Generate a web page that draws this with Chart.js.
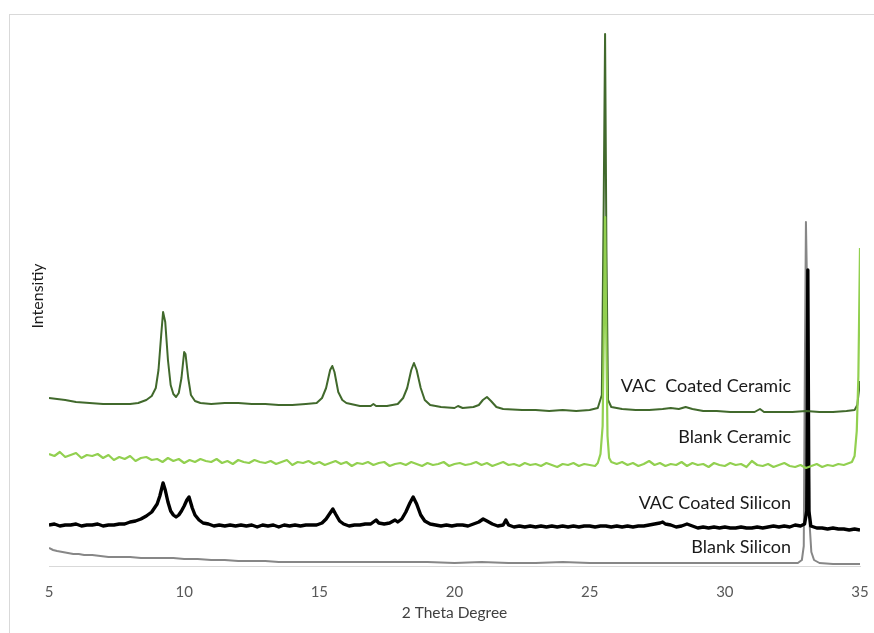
<!DOCTYPE html>
<html>
<head>
<meta charset="utf-8">
<script src="https://cdn.jsdelivr.net/npm/chart.js@4"></script>
<style>
  html, body { margin: 0; padding: 0; background: #fff; overflow: hidden; }
  #wrap { position: relative; width: 874px; height: 633px; }
  #frame { position: absolute; left: 9px; top: 14px; right: -2px; bottom: -2px;
           border: 1px solid #d9d9d9; }
  canvas { position: absolute; left: 0; top: 0; }
</style>
</head>
<body>
<div id="wrap">
  <div id="frame"></div>
  <canvas id="xrdChart" width="874" height="633"></canvas>
</div>
<script>
// Series: [2 theta, intensity (arbitrary, offset)]
const vacCeramic = [
  [5.0,168],[5.3,167],[5.6,166],[6.0,164],[6.5,163],[7.0,162],[7.5,162],[8.0,162],[8.3,163],
  [8.6,166],[8.8,170],[8.95,178],[9.05,196],[9.15,231],[9.22,254],[9.3,244],[9.4,206],[9.5,181],
  [9.6,172],[9.7,169],[9.8,173],[9.9,188],[10.0,214],[10.05,212],[10.15,188],[10.25,171],[10.4,165],
  [10.6,163],[11.0,162],[11.5,163],[12.0,163],[12.5,162],[13.0,162],[13.5,161],[14.0,161],[14.5,162],
  [14.9,163],[15.1,168],[15.25,178],[15.4,196],[15.48,200],[15.56,194],[15.7,174],[15.85,166],[16.0,163],
  [16.5,160],[16.9,160],[17.0,162],[17.1,160],[17.5,160],[17.9,162],[18.1,168],[18.25,178],[18.4,196],
  [18.5,203],[18.6,196],[18.75,178],[18.9,166],[19.1,161],[19.5,159],[20.0,158],[20.13,160],[20.3,158],
  [20.7,159],[20.9,161],[21.05,166],[21.2,169],[21.35,165],[21.55,159],[21.8,157],[22.5,156],[23.0,156],
  [23.5,155],[24.0,156],[24.5,155],[25.0,156],[25.3,158],[25.45,171],[25.52,366],[25.57,532],[25.62,316],
  [25.68,166],[25.8,159],[26.2,157],[26.7,156],[27.2,156],[27.7,157],[28.0,158],[28.3,157],[28.55,159],
  [28.8,157],[29.2,155],[29.7,155],[30.2,154],[30.7,154],[31.1,154],[31.3,157],[31.45,154],[32.0,154],
  [32.5,154],[33.0,155],[33.5,154],[34.0,154],[34.5,155],[34.8,156],[34.9,161],[35.0,185]
];

const blankCeramic = [
  [5.0,112],[5.2,110],[5.4,114],[5.6,109],[5.8,111],[6.0,113],[6.2,108],[6.4,111],[6.6,110],[6.8,112],
  [7.0,108],[7.2,111],[7.4,106],[7.6,109],[7.8,107],[8.0,110],[8.2,105],[8.4,108],[8.6,109],[8.8,106],
  [9.0,107],[9.2,104],[9.4,108],[9.6,105],[9.8,107],[10.0,103],[10.2,106],[10.4,104],[10.6,107],[10.8,105],
  [11.0,104],[11.2,107],[11.4,103],[11.6,105],[11.8,102],[12.0,106],[12.2,104],[12.4,103],[12.6,106],[12.8,104],
  [13.0,103],[13.2,105],[13.4,102],[13.6,104],[13.8,106],[14.0,101],[14.2,104],[14.4,103],[14.6,105],[14.8,102],
  [15.0,104],[15.2,101],[15.4,103],[15.6,105],[15.8,102],[16.0,104],[16.2,100],[16.4,103],[16.6,102],[16.8,104],
  [17.0,101],[17.2,103],[17.4,104],[17.6,100],[17.8,102],[18.0,103],[18.2,101],[18.4,104],[18.6,102],[18.8,100],
  [19.0,103],[19.2,101],[19.4,102],[19.6,104],[19.8,100],[20.0,102],[20.2,103],[20.4,101],[20.6,102],[20.8,104],
  [21.0,101],[21.2,103],[21.4,100],[21.6,102],[21.8,104],[22.0,101],[22.2,102],[22.4,100],[22.6,103],[22.8,101],
  [23.0,102],[23.2,100],[23.4,103],[23.6,101],[23.8,99],[24.0,102],[24.2,101],[24.4,103],[24.6,100],[24.8,102],
  [25.0,101],[25.2,100],[25.3,103],[25.4,112],[25.48,140],[25.53,250],[25.57,349],[25.61,240],[25.66,130],
  [25.72,108],[25.8,104],
  [26.0,102],[26.2,104],[26.4,101],[26.6,103],[26.8,100],[27.0,102],[27.2,105],[27.4,101],[27.6,103],[27.8,100],
  [28.0,102],[28.2,101],[28.4,104],[28.6,100],[28.8,103],[29.0,101],[29.2,102],[29.4,99],[29.6,103],[29.8,101],
  [30.0,100],[30.2,103],[30.4,101],[30.6,102],[30.8,99],[31.0,105],[31.2,101],[31.4,100],[31.6,102],[31.8,99],
  [32.0,101],[32.2,103],[32.4,100],[32.6,99],[32.8,101],[33.0,98],[33.2,100],[33.4,102],[33.6,99],[33.8,101],
  [34.0,100],[34.2,102],[34.4,101],[34.6,103],[34.7,104],[34.8,110],[34.88,135],[34.94,190],[35.0,318]
];

const vacSilicon = [
  [5.0,41],[5.2,42],[5.4,40],[5.6,41],[5.8,41],[6.0,42],[6.2,40],[6.4,41],[6.6,41],[6.8,42],
  [7.0,40],[7.2,41],[7.4,41],[7.6,42],[7.8,42],[8.0,44],[8.2,45],[8.4,47],[8.6,50],[8.8,54],
  [9.0,62],[9.1,70],[9.22,83],[9.3,76],[9.4,64],[9.5,55],[9.6,51],[9.7,49],[9.8,51],[9.9,55],
  [10.0,60],[10.1,66],[10.18,69],[10.3,58],[10.4,51],[10.55,46],[10.7,43],[10.9,42],[11.1,40],[11.3,41],
  [11.5,40],[11.7,41],[11.9,40],[12.1,41],[12.3,40],[12.5,41],[12.7,39],[12.9,41],[13.1,40],[13.3,41],
  [13.5,39],[13.7,41],[13.9,40],[14.1,41],[14.3,40],[14.5,41],[14.7,41],[14.9,41],[15.1,43],[15.25,47],
  [15.4,53],[15.5,57],[15.6,52],[15.75,45],[15.9,42],[16.1,40],[16.3,41],[16.5,41],[16.7,42],[16.9,42],
  [17.1,46],[17.2,43],[17.4,42],[17.6,43],[17.8,46],[17.9,44],[18.05,47],[18.2,54],[18.35,63],[18.47,69],
  [18.6,62],[18.75,51],[18.9,45],[19.1,42],[19.3,41],[19.5,40],[19.7,41],[19.9,40],[20.1,41],[20.3,41],
  [20.5,40],[20.7,42],[20.9,44],[21.06,47],[21.2,45],[21.4,42],[21.6,40],[21.8,41],[21.9,46],[22.0,41],
  [22.2,39],[22.4,40],[22.6,39],[22.8,40],[23.0,39],[23.2,40],[23.4,39],[23.6,40],[23.8,39],[24.0,40],
  [24.2,39],[24.4,40],[24.6,39],[24.8,40],[25.0,40],[25.2,39],[25.4,40],[25.6,40],[25.8,39],[26.0,40],
  [26.2,39],[26.4,40],[26.6,39],[26.8,40],[27.0,40],[27.2,41],[27.4,42],[27.6,43],[27.7,44],[27.8,42],
  [28.0,41],[28.2,39],[28.4,40],[28.6,42],[28.8,40],[29.0,38],[29.2,39],[29.4,38],[29.6,39],[29.8,38],
  [30.0,39],[30.2,38],[30.4,38],[30.6,39],[30.8,38],[31.0,38],[31.2,39],[31.4,38],[31.6,39],[31.8,40],
  [32.0,39],[32.2,40],[32.4,39],[32.6,41],[32.8,40],[32.95,42],[33.03,55],[33.07,296],[33.11,55],
  [33.18,40],[33.4,38],[33.6,38],[33.8,37],[34.0,38],[34.2,37],[34.4,37],[34.6,36],[34.8,37],[35.0,36]
];

const blankSilicon = [
  [5.0,18],[5.15,16],[5.3,15],[5.5,14],[5.7,13],[5.9,12],[6.1,12],[6.3,11],[6.6,11],[6.9,10],
  [7.2,9],[7.6,9],[8.0,9],[8.4,8],[8.8,8],[9.2,8],[9.6,8],[10.0,7],[10.5,7],[11.0,6],
  [11.5,6],[12.0,5],[12.5,5],[13.0,5],[13.5,4],[14.0,4],[15.0,4],[16.0,4],[17.0,4],[18.0,4],
  [19.0,4],[20.0,3],[21.0,4],[22.0,3],[23.0,3],[24.0,4],[25.0,3],[26.0,3],[27.0,3],[28.0,3],
  [29.0,3],[30.0,3],[31.0,3],[32.0,3],[32.7,3],[32.85,6],[32.92,20],[32.96,200],[33.0,344],[33.06,250],
  [33.1,120],[33.14,40],[33.2,14],[33.3,6],[33.5,3],[34.0,2],[34.5,2],[35.0,2]
];

const seriesNames = ['VAC  Coated Ceramic', 'Blank Ceramic', 'VAC Coated Silicon', 'Blank Silicon'];
const xTicks = [5, 10, 15, 20, 25, 30, 35];
// where each name sits (right edge, middle) in data units
const labelX = [32.45, 32.45, 32.45, 32.45];
const labelY = [180, 129, 63, 19];

const toXY = arr => arr.map(p => ({ x: p[0], y: p[1] }));
const fontFamily = 'Lato, "Open Sans", sans-serif';

const seriesLabels = {
  id: 'seriesLabels',
  afterDatasetsDraw(chart) {
    const { ctx, scales: { x, y } } = chart;
    ctx.save();
    ctx.font = '18px ' + fontFamily;
    ctx.fillStyle = '#1a1a1a';
    ctx.textAlign = 'right';
    ctx.textBaseline = 'middle';
    seriesNames.forEach((name, i) => {
      ctx.fillText(name, x.getPixelForValue(labelX[i]), y.getPixelForValue(labelY[i]));
    });
    ctx.restore();
  }
};

const ctx = document.getElementById('xrdChart').getContext('2d');
new Chart(ctx, {
  type: 'line',
  data: {
    datasets: [
      { label: seriesNames[0], data: toXY(vacCeramic), borderColor: '#41692c', borderWidth: 2, order: 2 },
      { label: seriesNames[1], data: toXY(blankCeramic), borderColor: '#92d050', borderWidth: 2.2, order: 1 },
      { label: seriesNames[2], data: toXY(vacSilicon), borderColor: '#000000', borderWidth: 3.4, order: 3 },
      { label: seriesNames[3], data: toXY(blankSilicon), borderColor: '#878787', borderWidth: 2, order: 4 }
    ]
  },
  options: {
    responsive: false,
    animation: false,
    devicePixelRatio: 1,
    layout: { padding: { top: 26, right: 14, bottom: 0, left: 0 } },
    elements: { point: { radius: 0 }, line: { tension: 0, fill: false, borderJoinStyle: 'round' } },
    plugins: { legend: { display: false }, tooltip: { enabled: false } },
    scales: {
      x: {
        type: 'linear',
        min: 5,
        max: 35,
        afterBuildTicks: s => { s.ticks = xTicks.map(v => ({ value: v })); },
        afterFit: s => { s.height = 67; s.paddingLeft = 0; s.paddingRight = 0; },
        grid: { display: false, drawTicks: false },
        border: { display: true, color: '#d9d9d9', width: 1 },
        ticks: { padding: 17, color: '#595959', font: { family: fontFamily, size: 15 } },
        title: {
          display: true,
          text: '2 Theta Degree',
          color: '#404040',
          font: { family: fontFamily, size: 15.5 },
          padding: { top: 0, bottom: 10.6 }
        }
      },
      y: {
        min: 0,
        max: 540,
        afterFit: s => { s.width = 49; },
        grid: { display: false },
        border: { display: false },
        ticks: { display: false },
        title: {
          display: true,
          text: 'Intensitiy',
          color: '#1a1a1a',
          font: { family: fontFamily, size: 16 },
          padding: { top: 28, bottom: 0 }
        }
      }
    }
  },
  plugins: [seriesLabels]
});
</script>
</body>
</html>
